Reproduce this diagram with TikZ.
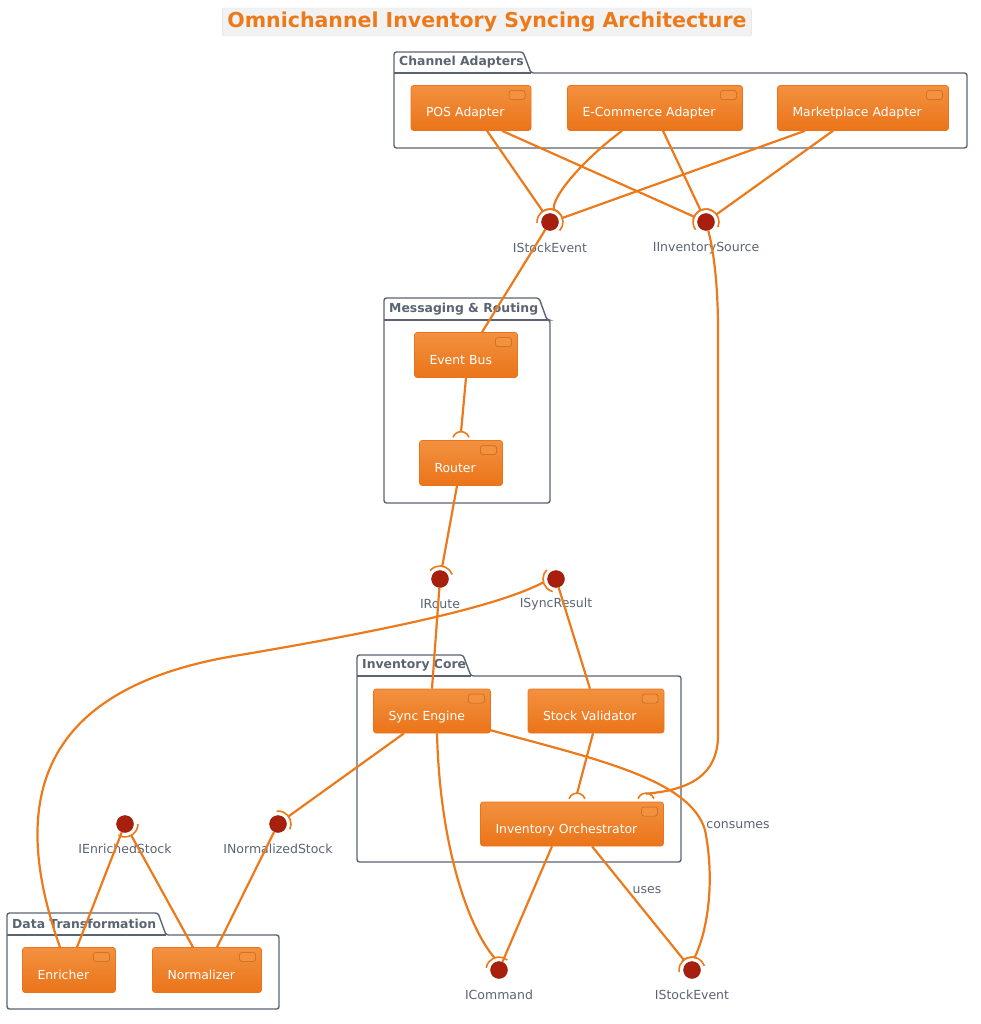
\documentclass[tikz,border=0pt]{standalone}
\usepackage{fontspec}
\setmainfont{DejaVu Sans}
\usetikzlibrary{calc}
\definecolor{org}{HTML}{EC7A1B}
\definecolor{orgt}{HTML}{F29140}
\definecolor{orgb}{HTML}{EB7419}
\definecolor{pk}{HTML}{5A6472}
\definecolor{ballc}{HTML}{A8200D}
\definecolor{txt}{HTML}{5A6472}
\tikzset{
 x=1pt,y=1pt,
 comp/.style={draw=orgb,line width=0.6pt,rounded corners=2.5pt,top color=orgt,bottom color=orgb,text=white,font=\fontsize{12.4}{14}\selectfont,inner sep=0pt,minimum height=45,align=left,text height=18pt,text depth=0pt,
  path picture={\draw[orgb!85!black,fill=orgt,line width=0.5pt] ([xshift=-22,yshift=-5]path picture bounding box.north east) rectangle +(16,-9);}},
 ball/.style={circle,fill=ballc,draw=ballc!80!black,minimum size=17,inner sep=0pt},
 lbl/.style={text=txt,font=\fontsize{12.5}{14}\selectfont},
 conn/.style={draw=org,line width=2.2pt},
 pkg/.style={draw=pk,line width=1.4pt,rounded corners=2.5pt},
 pkgname/.style={text=pk,font=\bfseries\fontsize{12.4}{14}\selectfont,anchor=west,inner sep=0pt},
}
\newcommand\ct[1]{\hspace*{15pt}#1}
\newcommand\sock[2]{\draw[conn,line width=1.6pt] ($(#1)+({#2-60}:13)$) arc[start angle={#2-60}, end angle={#2+60}, radius=13];}
\newcommand\pkgbox[7]{%
 \draw[pkg] (#1,-#4) -- (#1,-#6) -- (#5-8,-#6) -- (#5,-#2) -- (#3,-#2) -- (#3,-#4) -- cycle;
 \draw[pkg,rounded corners=0pt] (#1,-#2) -- (#5,-#2);
 \node[pkgname] (#7) at (#1+5,{-(#2+#6)/2})}
\begin{document}
\begin{tikzpicture}
\useasboundingbox (0,0) rectangle (981,-1024);
% title
\node[draw=black!12,fill=black!5,rounded corners=2pt,text=org,font=\bfseries\fontsize{20.5}{23}\selectfont,inner xsep=5pt,inner ysep=4pt] (title) at (487,-22) {Omnichannel Inventory Syncing Architecture};
% packages
\pkgbox{394}{73}{967}{148}{531}{52}{pca}{Channel Adapters};
\pkgbox{384}{320}{550}{503}{547}{298}{pmr}{Messaging \& Routing};
\pkgbox{357}{676}{681}{862}{471}{655}{pic}{Inventory Core};
\pkgbox{7}{935}{279}{1009}{166}{913}{pdt}{Data Transformation};
% components
\node[comp,minimum width=120,text width=120] (pos) at (471,-108) {\ct{POS Adapter}};
\node[comp,minimum width=175,text width=175] (ecom) at (655,-108) {\ct{E-Commerce Adapter}};
\node[comp,minimum width=171,text width=171] (mkt) at (863,-108) {\ct{Marketplace Adapter}};
\node[comp,minimum width=103,text width=103] (bus) at (466,-355) {\ct{Event Bus}};
\node[comp,minimum width=83,text width=83] (router) at (461,-463) {\ct{Router}};
\node[comp,minimum width=117,text width=117,minimum height=44] (sync) at (432,-711) {\ct{Sync Engine}};
\node[comp,minimum width=136,text width=136,minimum height=44] (val) at (596,-711) {\ct{Stock Validator}};
\node[comp,minimum width=183,text width=183,minimum height=44] (orch) at (572,-824) {\ct{Inventory Orchestrator}};
\node[comp,minimum width=93,text width=93] (enr) at (69,-970) {\ct{Enricher}};
\node[comp,minimum width=109,text width=109] (norm) at (207,-970) {\ct{Normalizer}};
% interfaces
\node[ball] (ise) at (550,-222) {};
\node[lbl] (isel) at (550,-248) {IStockEvent};
\node[ball] (iis) at (706,-222) {};
\node[lbl] (iisl) at (706,-248) {IInventorySource};
\node[ball] (iro) at (440,-579) {};
\node[lbl] (irol) at (440,-604) {IRoute};
\node[ball] (isr) at (556,-579) {};
\node[lbl] (isrl) at (556,-604) {ISyncResult};
\node[ball] (ies) at (125,-824) {};
\node[lbl] (iesl) at (125,-849) {IEnrichedStock};
\node[ball] (ins) at (278,-824) {};
\node[lbl] (insl) at (278,-849) {INormalizedStock};
\node[ball] (icm) at (499,-970) {};
\node[lbl] (icml) at (499,-995) {ICommand};
\node[ball] (ise2) at (692,-970) {};
\node[lbl] (ise2l) at (692,-995) {IStockEvent};
\node[lbl] (cons) at (738,-825) {consumes};
\node[lbl] (uses) at (647,-890) {uses};
% connectors: channel adapters
\draw[conn] ([xshift=16]pos.south) -- ($(ise)+(124:13)$); \sock{ise}{124}
\draw[conn] ([xshift=-33]ecom.south) .. controls +(-40,-30) and +(-3,12) .. ($(ise)+(72:13)$); \sock{ise}{72}
\draw[conn] ([xshift=-58]mkt.south) -- ($(ise)+(18:13)$); \sock{ise}{18}
\draw[conn] ([xshift=31]pos.south) -- ($(iis)+(156:13)$); \sock{iis}{156}
\draw[conn] ([xshift=8]ecom.south) -- ($(iis)+(115:13)$); \sock{iis}{115}
\draw[conn] ([xshift=-30]mkt.south) -- ($(iis)+(36:13)$); \sock{iis}{36}
% messaging
\draw[conn] (ise) -- ([xshift=16]bus.north);
\draw[conn] (bus.south) -- ([yshift=8]router.north);
\draw[conn,line width=1.6pt] ([xshift=-8,yshift=3]router.north) arc[start angle=160,end angle=20,radius=8.5];
\draw[conn] ([xshift=-4]router.south) -- ($(iro)+(80:13)$); \sock{iro}{80}
\draw[conn] (iro) -- (sync.north);
% sync result
\draw[conn] ([xshift=-9]enr.north) .. controls (15,-820) and (20,-690) .. (240,-655) .. controls (400,-628) and (500,-605) .. ($(isr)+(195:13)$); \sock{isr}{195}
\draw[conn] (isr) -- ([xshift=-6]val.north);
% inventory source to orchestrator
\draw[conn] (iis) .. controls (716,-260) and (718,-300) .. (718,-330) -- (718,-735) .. controls (718,-775) and (690,-790) .. ([xshift=74,yshift=8]orch.north);
\draw[conn,line width=1.6pt] ([xshift=66,yshift=3]orch.north) arc[start angle=160,end angle=20,radius=8.5];
\draw[conn] ([xshift=-3]val.south) -- ([xshift=5,yshift=8]orch.north);
\draw[conn,line width=1.6pt] ([xshift=-3,yshift=3]orch.north) arc[start angle=160,end angle=20,radius=8.5];
% data transformation
\draw[conn] ([xshift=-28]sync.south) -- ($(ins)+(36:13)$); \sock{ins}{36}
\draw[conn] (ins) -- ([xshift=10]norm.north);
\draw[conn] (ies) -- ([xshift=8]enr.north);
\draw[conn] ([xshift=-14]norm.north) -- ($(ies)+(-61:13)$); \sock{ies}{-61}
% commands / stock events
\draw[conn] ([xshift=5]sync.south) .. controls (440,-850) and (470,-930) .. ($(icm)+(110:13)$); \sock{icm}{110}
\draw[conn] ([xshift=-20]orch.south) -- (icm);
\draw[conn] ([xshift=20]orch.south) -- ($(ise2)+(129:13)$); \sock{ise2}{129}
\draw[conn] ([yshift=3]sync.south east) .. controls (600,-760) and (690,-780) .. (705,-830) .. controls (715,-880) and (708,-930) .. ($(ise2)+(78:13)$); \sock{ise2}{78}
\end{tikzpicture}
\end{document}
